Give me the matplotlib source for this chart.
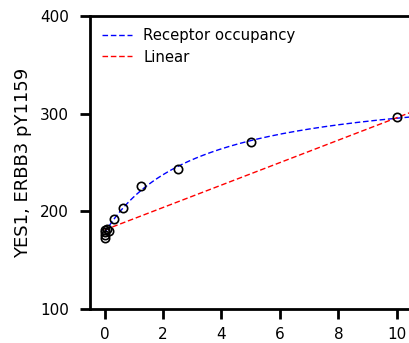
import numpy as np
import matplotlib
matplotlib.use("Agg")
import matplotlib.pyplot as plt

# dose values and measured signal
dose = [0, 0, 0, 0, 0.08, 0.156, 0.31, 0.625, 1.25, 2.5, 5, 10]
signal = [181, 176, 173, 179, 182, 180, 192.5, 203, 226.5, 243, 271, 296.5]

# fitted model parameters
occ_base = 178.0
occ_max = 155.0
occ_kd = 3.2
lin_icpt = 181.0
lin_slope = 11.5

fig = plt.figure(figsize=(4.09, 3.43), dpi=100)
ax = fig.add_axes([0.22, 0.099, 0.786, 0.854])

xs = np.linspace(0, 10.6, 300)
ax.plot(xs, occ_base + occ_max * xs / (occ_kd + xs), "--", color="blue", lw=1.0,
        dashes=(4, 2), label="Receptor occupancy")
ax.plot(xs, lin_icpt + lin_slope * xs, "--", color="red", lw=1.0,
        dashes=(4, 2), label="Linear")
ax.plot(dose, signal, "o", mfc="none", mec="black", ms=6, mew=1.2)

ax.set_xlim(-0.5, 10.5)
ax.set_ylim(100, 400)
ax.set_xticks([0, 2, 4, 6, 8, 10])
ax.set_yticks([100, 200, 300, 400])
ax.set_ylabel("YES1, ERBB3 pY1159", fontsize=13, labelpad=6)
ax.spines["right"].set_visible(False)
for s in ["left", "bottom", "top"]:
    ax.spines[s].set_linewidth(2)
ax.tick_params(direction="out", length=7, width=2, labelsize=11, pad=8)
ax.tick_params(axis="x", pad=6)
ax.legend(loc="upper left", frameon=False, fontsize=10.7, handlelength=2.0,
          handletextpad=0.8, labelspacing=0.45, borderaxespad=0.4)

fig.savefig("out.png", dpi=100)
